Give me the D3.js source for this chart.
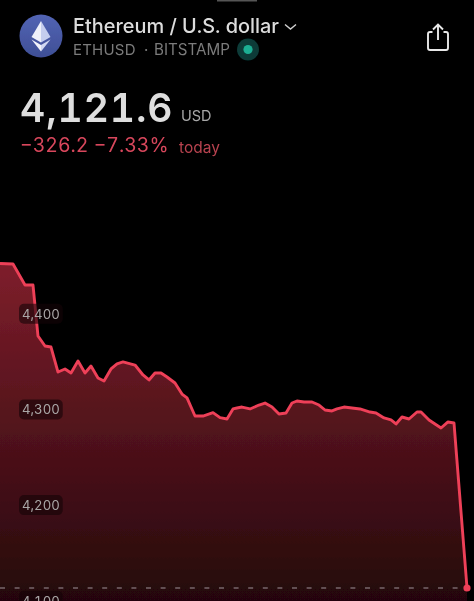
<!DOCTYPE html>
<html>
<head>
<meta charset="utf-8">
<script src="https://cdn.jsdelivr.net/npm/d3@7"></script>
<style>
  html, body { margin: 0; background: #000; overflow: hidden; }
  svg { display: block; font-family: Inter, Roboto, sans-serif; font-variant-numeric: tabular-nums; }
</style>
</head>
<body>
<svg id="chart"></svg>
<script>
// minutes into the visible window
const minutes = [0, 26, 50, 66, 76, 90, 102, 116, 130, 142, 156, 170, 182, 196, 208, 222, 234, 246, 270, 286, 298, 310, 322, 334, 350, 364, 374, 390, 406, 426, 440, 454, 466, 474, 484, 500, 518, 530, 544, 558, 572, 584, 594, 608, 624, 638, 650, 664, 674, 688, 704, 720, 740, 752, 768, 782, 792, 804, 818, 834, 842, 858, 882, 896, 908, 934]
const prices = [4460.7, 4460.2, 4438.2, 4438.2, 4384.9, 4374.5, 4373.4, 4347.3, 4350.5, 4346.3, 4358.8, 4346.3, 4353.6, 4341.1, 4337.9, 4350.5, 4355.7, 4357.8, 4354.6, 4344.2, 4339, 4346.3, 4346.3, 4342.1, 4335.8, 4324.3, 4320.2, 4301.3, 4301.3, 4304.8, 4299.6, 4298.2, 4308.7, 4309.7, 4310.7, 4308.7, 4312.8, 4314.9, 4310.7, 4303.4, 4304.5, 4314.9, 4317, 4316, 4316, 4312.8, 4307.6, 4306.6, 4308.7, 4310.7, 4309.7, 4308.7, 4305.5, 4304.5, 4299.3, 4297.2, 4293, 4300.3, 4298.2, 4305.5, 4305.5, 4297.2, 4288.8, 4295.1, 4294, 4121.6]
const priceTicks = [4400, 4300, 4200, 4100]
const lastPrice = 4121.6

const width = 474
const height = 601
const red = '#ee4058'

const svg = d3.select('#chart').attr('width', width).attr('height', height)

const x = d3.scaleLinear().domain([0, 934]).range([0, 467])
const y = d3.scaleLinear().domain([4121.6, 4460.7]).range([588, 263.5])

const defs = svg.append('defs')

const fade = defs.append('linearGradient').attr('id', 'fade')
  .attr('gradientUnits', 'userSpaceOnUse')
  .attr('x1', 0).attr('x2', 0).attr('y1', 264).attr('y2', 601)
fade.append('stop').attr('offset', 0).attr('stop-color', '#7e1e2b')
fade.append('stop').attr('offset', 1).attr('stop-color', '#24060b')

const badge = defs.append('linearGradient').attr('id', 'badge')
  .attr('x1', 0).attr('x2', 0).attr('y1', 0).attr('y2', 1)
badge.append('stop').attr('offset', 0).attr('stop-color', '#5264b4')
badge.append('stop').attr('offset', 1).attr('stop-color', '#3f4f96')

defs.append('filter').attr('id', 'soft').append('feGaussianBlur').attr('stdDeviation', 0.5)

// chart
const data = minutes.map((m, i) => ({ m, p: prices[i] }))

const area = d3.area().x(d => x(d.m)).y0(height).y1(d => y(d.p))
const line = d3.line().x(d => x(d.m)).y(d => y(d.p))

const plot = svg.append('g').attr('filter', 'url(#soft)')

plot.append('path').datum(data).attr('d', area).attr('fill', 'url(#fade)')

plot.append('line')
  .attr('x1', 0).attr('x2', x(934))
  .attr('y1', y(lastPrice)).attr('y2', y(lastPrice))
  .attr('stroke', '#a09a9a').attr('stroke-width', 1)
  .attr('stroke-dasharray', '5 9.6')

plot.append('path').datum(data).attr('d', line)
  .attr('fill', 'none').attr('stroke', red).attr('stroke-width', 2.9)
  .attr('stroke-linejoin', 'round')

plot.append('circle').attr('cx', x(934)).attr('cy', y(lastPrice)).attr('r', 3.6).attr('fill', red)

// price labels sit a little above their level
const axis = d3.axisRight(y).tickValues(priceTicks).tickSize(0).tickPadding(22).tickFormat(d3.format(','))
const axisG = svg.append('g').call(axis)
axisG.select('.domain').remove()
axisG.selectAll('text')
  .attr('y', -7.6)
  .attr('fill', '#aaa7a7')
  .attr('font-size', 13.2)
  .attr('font-family', 'Inter, Roboto, sans-serif')
  .attr('filter', 'url(#soft)')
axisG.selectAll('.tick').each(function () {
  const t = d3.select(this)
  const b = t.select('text').node().getBBox()
  t.insert('rect', 'text')
    .attr('x', b.x - 3).attr('y', b.y - 2)
    .attr('width', b.width + 6).attr('height', b.height + 4)
    .attr('rx', 5)
    .attr('fill', '#140306').attr('fill-opacity', 0.6)
})

// header
const head = svg.append('g').attr('filter', 'url(#soft)')

head.append('rect').attr('x', 217).attr('y', 0).attr('width', 40).attr('height', 1.5).attr('fill', '#555')

head.append('circle').attr('cx', 41).attr('cy', 36).attr('r', 21.5).attr('fill', 'url(#badge)')
head.append('path').attr('d', 'M41 21L31.5 37L41 42.5Z').attr('fill', '#eef0fa')
head.append('path').attr('d', 'M41 21L50.5 37L41 42.5Z').attr('fill', '#c5cdee')
head.append('path').attr('d', 'M31.5 39.5L41 45L41 51.5Z').attr('fill', '#f3f4fb')
head.append('path').attr('d', 'M50.5 39.5L41 45L41 51.5Z').attr('fill', '#d3d9f2')

head.append('text').attr('x', 73).attr('y', 33)
  .attr('font-size', 19.9).attr('font-weight', 500).attr('fill', '#dcdcdc')
  .text('Ethereum / U.S. dollar')

head.append('path').attr('d', 'M285 24.5L290.5 29L296 24.5')
  .attr('fill', 'none').attr('stroke', '#d0d0d0').attr('stroke-width', 1.4)

head.append('text').attr('x', 73).attr('y', 55)
  .attr('font-size', 15).attr('fill', '#7b7b7b')
  .attr('letter-spacing', 0.2)
  .text('ETHUSD')
head.append('text').attr('x', 144).attr('y', 55)
  .attr('font-size', 15).attr('fill', '#7b7b7b')
  .text('·')
head.append('text').attr('x', 154).attr('y', 55)
  .attr('font-size', 15.2).attr('fill', '#7b7b7b')
  .text('BITSTAMP')

head.append('circle').attr('cx', 248).attr('cy', 49.5).attr('r', 11).attr('fill', '#0b3a37')
head.append('circle').attr('cx', 248).attr('cy', 49.5).attr('r', 4.6).attr('fill', '#1fae93')

// share icon
head.append('path').attr('d', 'M432.5 32H430Q428 32 428 34V48Q428 50 430 50H446Q448 50 448 48V34Q448 32 446 32H443.5')
  .attr('fill', 'none').attr('stroke', '#e8e8e8').attr('stroke-width', 1.9)
head.append('path').attr('d', 'M438 40V25M433 29.5L438 24.5L443 29.5')
  .attr('fill', 'none').attr('stroke', '#e8e8e8').attr('stroke-width', 1.9)

// quote
head.append('text').attr('x', 20).attr('y', 122)
  .attr('font-size', 39).attr('font-weight', 600).attr('fill', '#dedede')
  .attr('letter-spacing', 0.9)
  .text('4,121.6')
head.append('text').attr('x', 181).attr('y', 121)
  .attr('font-size', 14.5).attr('fill', '#a8a8a8')
  .text('USD')

head.append('text').attr('x', 20).attr('y', 152)
  .attr('font-size', 19.5).attr('fill', '#d8475c')
  .text('−326.2 −7.33%')
head.append('text').attr('x', 179).attr('y', 152.5)
  .attr('font-size', 15.5).attr('fill', '#b8434f')
  .text('today')
</script>
</body>
</html>
